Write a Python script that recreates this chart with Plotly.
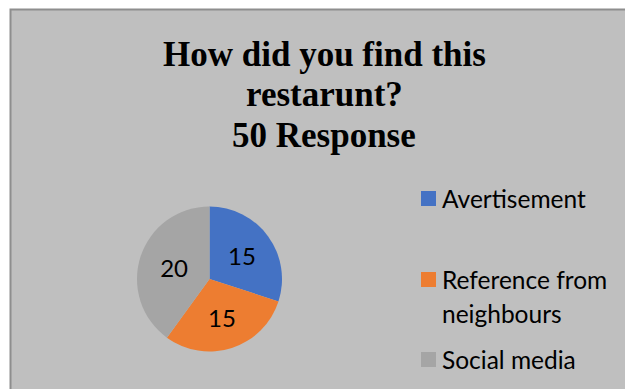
import plotly.graph_objects as go

# Survey answers: "How did you find this restarunt?" (50 responses)
categories = ["Avertisement", "Reference from<br>neighbours", "Social media"]
responses = [15, 15, 20]
slice_colors = ["#4472C4", "#ED7D31", "#A5A5A5"]
title_lines = ["How did you find this", "restarunt?", "50 Response"]

W, H = 625, 389


def px_x(x):
    return x / W


def px_y(y):
    return 1 - y / H


# pie placement (pixel centre and radius)
cx, cy, r = 209.5, 279.0, 72.5

fig = go.Figure()
fig.add_trace(go.Pie(
    labels=[c.replace("<br>", " ") for c in categories],
    values=responses,
    sort=False,
    direction="clockwise",
    rotation=0,
    marker=dict(colors=slice_colors, line=dict(width=0)),
    textinfo="value",
    textposition="inside",
    insidetextorientation="horizontal",
    textfont=dict(family="Lato", size=24, color="#000000"),
    showlegend=False,
    hoverinfo="label+value",
    domain=dict(x=[px_x(cx - r), px_x(cx + r)], y=[px_y(cy + r), px_y(cy - r)]),
))

shapes = [
    # chart area
    dict(type="rect", xref="paper", yref="paper",
         x0=px_x(10.5), x1=1.02, y0=-0.02, y1=px_y(9.5),
         fillcolor="#BFBFBF", line=dict(color="#8E8E8E", width=2), layer="below"),
]
annotations = []

# title, one annotation per line
title_centres = [54, 94.5, 135]
for line, yc in zip(title_lines, title_centres):
    annotations.append(dict(text="<b>%s</b>" % line,
                            x=px_x(324), y=px_y(yc), xref="paper", yref="paper",
                            xanchor="center", yanchor="middle", showarrow=False,
                            font=dict(family="Liberation Serif", size=35, color="#000000")))

# legend: swatch + label per category
legend_rows = [198.5, 279.5, 359.5]
line_pitch = 34
sw = 15
for label, color, yc in zip(categories, slice_colors, legend_rows):
    shapes.append(dict(type="rect", xref="paper", yref="paper",
                       x0=px_x(421), x1=px_x(421 + sw),
                       y0=px_y(yc + sw / 2), y1=px_y(yc - sw / 2),
                       fillcolor=color, line=dict(width=0)))
    for i, part in enumerate(label.split("<br>")):
        annotations.append(dict(text=part, x=px_x(440), y=px_y(yc + i * line_pitch),
                                xref="paper", yref="paper",
                                xanchor="left", yanchor="middle", showarrow=False,
                                font=dict(family="Lato", size=24.5, color="#000000")))

fig.update_layout(
    width=W, height=H,
    margin=dict(l=0, r=0, t=0, b=0),
    paper_bgcolor="#FFFFFF",
    plot_bgcolor="#FFFFFF",
    shapes=shapes,
    annotations=annotations,
)

fig.write_html("out.html")
